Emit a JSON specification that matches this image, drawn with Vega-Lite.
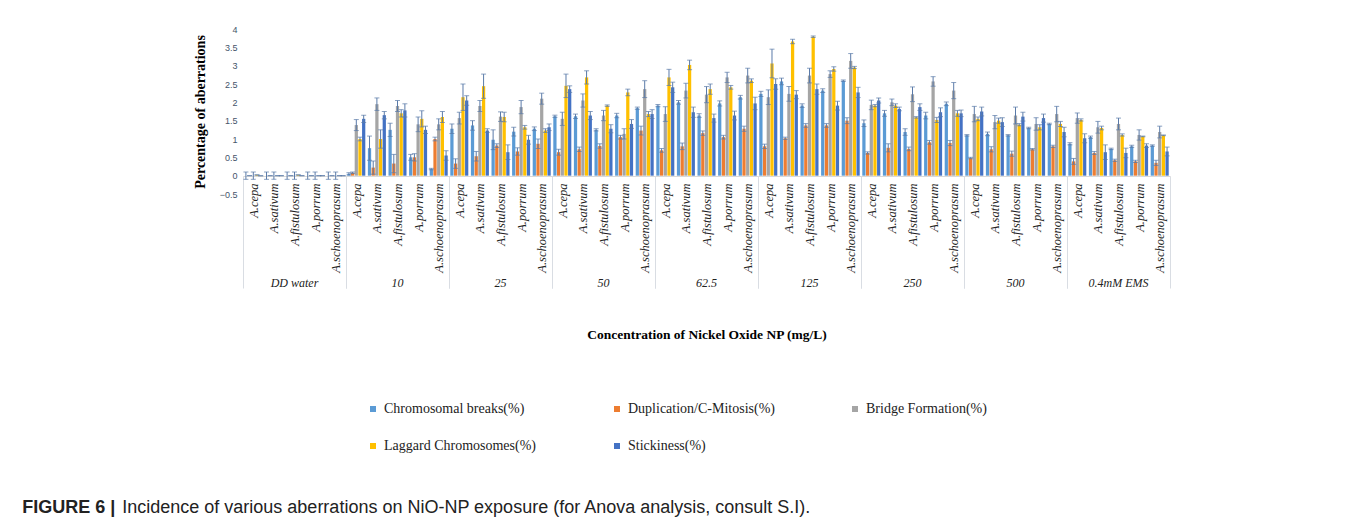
{
  "$schema": "https://vega.github.io/schema/vega-lite/v6.json",
  "background": "white",
  "padding": {"left": 22, "top": 25, "right": 10, "bottom": 5},
  "title": {"text": "FIGURE 6 |", "subtitle": "\u200b\u00a0\u00a0\u00a0\u00a0\u00a0\u00a0\u00a0\u00a0\u00a0\u00a0\u00a0\u00a0\u00a0\u00a0\u00a0\u00a0\u00a0\u00a0\u00a0\u00a0Incidence of various aberrations on NiO-NP exposure (for Anova analysis, consult S.I).", "orient": "bottom", "anchor": "start", "font": "Liberation Sans", "fontSize": 18, "fontWeight": "bold", "color": "#222222", "subtitleFont": "Liberation Sans", "subtitleFontSize": 18, "subtitleFontWeight": "normal", "subtitleColor": "#222222", "subtitlePadding": -18, "dx": -171, "offset": 46},
  "data": {"values": [
{"g":"DD water","s":"A.cepa","t":"Chromosomal breaks(%)","v":0,"e":0.1},{"g":"DD water","s":"A.cepa","t":"Duplication/C-Mitosis(%)","v":0,"e":0},{"g":"DD water","s":"A.cepa","t":"Bridge Formation(%)","v":0,"e":0.1},{"g":"DD water","s":"A.cepa","t":"Laggard Chromosomes(%)","v":0.02,"e":0},{"g":"DD water","s":"A.cepa","t":"Stickiness(%)","v":0,"e":0},
{"g":"DD water","s":"A.sativum","t":"Chromosomal breaks(%)","v":0,"e":0.1},{"g":"DD water","s":"A.sativum","t":"Duplication/C-Mitosis(%)","v":0,"e":0},{"g":"DD water","s":"A.sativum","t":"Bridge Formation(%)","v":0,"e":0.1},{"g":"DD water","s":"A.sativum","t":"Laggard Chromosomes(%)","v":0,"e":0},{"g":"DD water","s":"A.sativum","t":"Stickiness(%)","v":0,"e":0},
{"g":"DD water","s":"A.fistulosum","t":"Chromosomal breaks(%)","v":0,"e":0.1},{"g":"DD water","s":"A.fistulosum","t":"Duplication/C-Mitosis(%)","v":0,"e":0},{"g":"DD water","s":"A.fistulosum","t":"Bridge Formation(%)","v":0,"e":0.1},{"g":"DD water","s":"A.fistulosum","t":"Laggard Chromosomes(%)","v":0.02,"e":0},{"g":"DD water","s":"A.fistulosum","t":"Stickiness(%)","v":0,"e":0},
{"g":"DD water","s":"A.porrum","t":"Chromosomal breaks(%)","v":0,"e":0.1},{"g":"DD water","s":"A.porrum","t":"Duplication/C-Mitosis(%)","v":0,"e":0},{"g":"DD water","s":"A.porrum","t":"Bridge Formation(%)","v":0,"e":0.1},{"g":"DD water","s":"A.porrum","t":"Laggard Chromosomes(%)","v":0,"e":0},{"g":"DD water","s":"A.porrum","t":"Stickiness(%)","v":0,"e":0},
{"g":"DD water","s":"A.schoenoprasum","t":"Chromosomal breaks(%)","v":0,"e":0.1},{"g":"DD water","s":"A.schoenoprasum","t":"Duplication/C-Mitosis(%)","v":0,"e":0},{"g":"DD water","s":"A.schoenoprasum","t":"Bridge Formation(%)","v":0,"e":0.1},{"g":"DD water","s":"A.schoenoprasum","t":"Laggard Chromosomes(%)","v":0,"e":0},{"g":"DD water","s":"A.schoenoprasum","t":"Stickiness(%)","v":0,"e":0},
{"g":"10","s":"A.cepa","t":"Chromosomal breaks(%)","v":0.05,"e":0.03},{"g":"10","s":"A.cepa","t":"Duplication/C-Mitosis(%)","v":0.08,"e":0.02},{"g":"10","s":"A.cepa","t":"Bridge Formation(%)","v":1.38,"e":0.15},{"g":"10","s":"A.cepa","t":"Laggard Chromosomes(%)","v":1.0,"e":0.05},{"g":"10","s":"A.cepa","t":"Stickiness(%)","v":1.55,"e":0.1},
{"g":"10","s":"A.sativum","t":"Chromosomal breaks(%)","v":0.75,"e":0.33},{"g":"10","s":"A.sativum","t":"Duplication/C-Mitosis(%)","v":0.22,"e":0.18},{"g":"10","s":"A.sativum","t":"Bridge Formation(%)","v":1.95,"e":0.17},{"g":"10","s":"A.sativum","t":"Laggard Chromosomes(%)","v":1.0,"e":0.25},{"g":"10","s":"A.sativum","t":"Stickiness(%)","v":1.65,"e":0.1},
{"g":"10","s":"A.fistulosum","t":"Chromosomal breaks(%)","v":1.25,"e":0.18},{"g":"10","s":"A.fistulosum","t":"Duplication/C-Mitosis(%)","v":0.33,"e":0.25},{"g":"10","s":"A.fistulosum","t":"Bridge Formation(%)","v":1.9,"e":0.15},{"g":"10","s":"A.fistulosum","t":"Laggard Chromosomes(%)","v":1.7,"e":0.1},{"g":"10","s":"A.fistulosum","t":"Stickiness(%)","v":1.78,"e":0.18},
{"g":"10","s":"A.porrum","t":"Chromosomal breaks(%)","v":0.5,"e":0.08},{"g":"10","s":"A.porrum","t":"Duplication/C-Mitosis(%)","v":0.5,"e":0.1},{"g":"10","s":"A.porrum","t":"Bridge Formation(%)","v":1.4,"e":0.2},{"g":"10","s":"A.porrum","t":"Laggard Chromosomes(%)","v":1.55,"e":0.22},{"g":"10","s":"A.porrum","t":"Stickiness(%)","v":1.25,"e":0.1},
{"g":"10","s":"A.schoenoprasum","t":"Chromosomal breaks(%)","v":0.18,"e":0.02},{"g":"10","s":"A.schoenoprasum","t":"Duplication/C-Mitosis(%)","v":1.0,"e":0.05},{"g":"10","s":"A.schoenoprasum","t":"Bridge Formation(%)","v":1.4,"e":0.15},{"g":"10","s":"A.schoenoprasum","t":"Laggard Chromosomes(%)","v":1.6,"e":0.15},{"g":"10","s":"A.schoenoprasum","t":"Stickiness(%)","v":0.55,"e":0.13},
{"g":"25","s":"A.cepa","t":"Chromosomal breaks(%)","v":1.28,"e":0.13},{"g":"25","s":"A.cepa","t":"Duplication/C-Mitosis(%)","v":0.33,"e":0.13},{"g":"25","s":"A.cepa","t":"Bridge Formation(%)","v":1.57,"e":0.16},{"g":"25","s":"A.cepa","t":"Laggard Chromosomes(%)","v":2.14,"e":0.36},{"g":"25","s":"A.cepa","t":"Stickiness(%)","v":2.05,"e":0.13},
{"g":"25","s":"A.sativum","t":"Chromosomal breaks(%)","v":1.37,"e":0.13},{"g":"25","s":"A.sativum","t":"Duplication/C-Mitosis(%)","v":0.53,"e":0.13},{"g":"25","s":"A.sativum","t":"Bridge Formation(%)","v":1.9,"e":0.15},{"g":"25","s":"A.sativum","t":"Laggard Chromosomes(%)","v":2.44,"e":0.33},{"g":"25","s":"A.sativum","t":"Stickiness(%)","v":1.23,"e":0.05},
{"g":"25","s":"A.fistulosum","t":"Chromosomal breaks(%)","v":0.98,"e":0.27},{"g":"25","s":"A.fistulosum","t":"Duplication/C-Mitosis(%)","v":0.82,"e":0.05},{"g":"25","s":"A.fistulosum","t":"Bridge Formation(%)","v":1.61,"e":0.13},{"g":"25","s":"A.fistulosum","t":"Laggard Chromosomes(%)","v":1.6,"e":0.13},{"g":"25","s":"A.fistulosum","t":"Stickiness(%)","v":0.64,"e":0.2},
{"g":"25","s":"A.porrum","t":"Chromosomal breaks(%)","v":1.2,"e":0.12},{"g":"25","s":"A.porrum","t":"Duplication/C-Mitosis(%)","v":0.66,"e":0.1},{"g":"25","s":"A.porrum","t":"Bridge Formation(%)","v":1.87,"e":0.18},{"g":"25","s":"A.porrum","t":"Laggard Chromosomes(%)","v":1.32,"e":0.05},{"g":"25","s":"A.porrum","t":"Stickiness(%)","v":0.98,"e":0.12},
{"g":"25","s":"A.schoenoprasum","t":"Chromosomal breaks(%)","v":1.28,"e":0.05},{"g":"25","s":"A.schoenoprasum","t":"Duplication/C-Mitosis(%)","v":0.87,"e":0.13},{"g":"25","s":"A.schoenoprasum","t":"Bridge Formation(%)","v":2.1,"e":0.15},{"g":"25","s":"A.schoenoprasum","t":"Laggard Chromosomes(%)","v":1.23,"e":0.05},{"g":"25","s":"A.schoenoprasum","t":"Stickiness(%)","v":1.32,"e":0.09},
{"g":"50","s":"A.cepa","t":"Chromosomal breaks(%)","v":1.62,"e":0.03},{"g":"50","s":"A.cepa","t":"Duplication/C-Mitosis(%)","v":0.64,"e":0.08},{"g":"50","s":"A.cepa","t":"Bridge Formation(%)","v":1.55,"e":0.18},{"g":"50","s":"A.cepa","t":"Laggard Chromosomes(%)","v":2.45,"e":0.32},{"g":"50","s":"A.cepa","t":"Stickiness(%)","v":2.36,"e":0.09},
{"g":"50","s":"A.sativum","t":"Chromosomal breaks(%)","v":1.62,"e":0.06},{"g":"50","s":"A.sativum","t":"Duplication/C-Mitosis(%)","v":0.72,"e":0.06},{"g":"50","s":"A.sativum","t":"Bridge Formation(%)","v":2.05,"e":0.18},{"g":"50","s":"A.sativum","t":"Laggard Chromosomes(%)","v":2.68,"e":0.18},{"g":"50","s":"A.sativum","t":"Stickiness(%)","v":1.64,"e":0.11},
{"g":"50","s":"A.fistulosum","t":"Chromosomal breaks(%)","v":1.25,"e":0.03},{"g":"50","s":"A.fistulosum","t":"Duplication/C-Mitosis(%)","v":0.81,"e":0.06},{"g":"50","s":"A.fistulosum","t":"Bridge Formation(%)","v":1.64,"e":0.14},{"g":"50","s":"A.fistulosum","t":"Laggard Chromosomes(%)","v":1.91,"e":0.02},{"g":"50","s":"A.fistulosum","t":"Stickiness(%)","v":1.28,"e":0.11},
{"g":"50","s":"A.porrum","t":"Chromosomal breaks(%)","v":1.64,"e":0.06},{"g":"50","s":"A.porrum","t":"Duplication/C-Mitosis(%)","v":1.05,"e":0.05},{"g":"50","s":"A.porrum","t":"Bridge Formation(%)","v":1.14,"e":0.14},{"g":"50","s":"A.porrum","t":"Laggard Chromosomes(%)","v":2.27,"e":0.09},{"g":"50","s":"A.porrum","t":"Stickiness(%)","v":1.41,"e":0.12},
{"g":"50","s":"A.schoenoprasum","t":"Chromosomal breaks(%)","v":1.84,"e":0.03},{"g":"50","s":"A.schoenoprasum","t":"Duplication/C-Mitosis(%)","v":1.23,"e":0.12},{"g":"50","s":"A.schoenoprasum","t":"Bridge Formation(%)","v":2.36,"e":0.23},{"g":"50","s":"A.schoenoprasum","t":"Laggard Chromosomes(%)","v":1.68,"e":0.07},{"g":"50","s":"A.schoenoprasum","t":"Stickiness(%)","v":1.68,"e":0.12},
{"g":"62.5","s":"A.cepa","t":"Chromosomal breaks(%)","v":1.91,"e":0.03},{"g":"62.5","s":"A.cepa","t":"Duplication/C-Mitosis(%)","v":0.69,"e":0.05},{"g":"62.5","s":"A.cepa","t":"Bridge Formation(%)","v":1.68,"e":0.2},{"g":"62.5","s":"A.cepa","t":"Laggard Chromosomes(%)","v":2.68,"e":0.22},{"g":"62.5","s":"A.cepa","t":"Stickiness(%)","v":2.41,"e":0.14},
{"g":"62.5","s":"A.sativum","t":"Chromosomal breaks(%)","v":2.0,"e":0.05},{"g":"62.5","s":"A.sativum","t":"Duplication/C-Mitosis(%)","v":0.8,"e":0.09},{"g":"62.5","s":"A.sativum","t":"Bridge Formation(%)","v":2.32,"e":0.2},{"g":"62.5","s":"A.sativum","t":"Laggard Chromosomes(%)","v":3.02,"e":0.13},{"g":"62.5","s":"A.sativum","t":"Stickiness(%)","v":1.73,"e":0.14},
{"g":"62.5","s":"A.fistulosum","t":"Chromosomal breaks(%)","v":1.64,"e":0.05},{"g":"62.5","s":"A.fistulosum","t":"Duplication/C-Mitosis(%)","v":1.16,"e":0.06},{"g":"62.5","s":"A.fistulosum","t":"Bridge Formation(%)","v":2.21,"e":0.22},{"g":"62.5","s":"A.fistulosum","t":"Laggard Chromosomes(%)","v":2.36,"e":0.14},{"g":"62.5","s":"A.fistulosum","t":"Stickiness(%)","v":1.57,"e":0.11},
{"g":"62.5","s":"A.porrum","t":"Chromosomal breaks(%)","v":1.97,"e":0.07},{"g":"62.5","s":"A.porrum","t":"Duplication/C-Mitosis(%)","v":1.05,"e":0.05},{"g":"62.5","s":"A.porrum","t":"Bridge Formation(%)","v":2.68,"e":0.14},{"g":"62.5","s":"A.porrum","t":"Laggard Chromosomes(%)","v":2.41,"e":0.05},{"g":"62.5","s":"A.porrum","t":"Stickiness(%)","v":1.64,"e":0.12},
{"g":"62.5","s":"A.schoenoprasum","t":"Chromosomal breaks(%)","v":2.14,"e":0.05},{"g":"62.5","s":"A.schoenoprasum","t":"Duplication/C-Mitosis(%)","v":1.28,"e":0.07},{"g":"62.5","s":"A.schoenoprasum","t":"Bridge Formation(%)","v":2.73,"e":0.2},{"g":"62.5","s":"A.schoenoprasum","t":"Laggard Chromosomes(%)","v":2.59,"e":0.05},{"g":"62.5","s":"A.schoenoprasum","t":"Stickiness(%)","v":1.97,"e":0.17},
{"g":"125","s":"A.cepa","t":"Chromosomal breaks(%)","v":2.23,"e":0.07},{"g":"125","s":"A.cepa","t":"Duplication/C-Mitosis(%)","v":0.8,"e":0.06},{"g":"125","s":"A.cepa","t":"Bridge Formation(%)","v":2.14,"e":0.2},{"g":"125","s":"A.cepa","t":"Laggard Chromosomes(%)","v":3.06,"e":0.39},{"g":"125","s":"A.cepa","t":"Stickiness(%)","v":2.5,"e":0.14},
{"g":"125","s":"A.sativum","t":"Chromosomal breaks(%)","v":2.57,"e":0.09},{"g":"125","s":"A.sativum","t":"Duplication/C-Mitosis(%)","v":1.02,"e":0.03},{"g":"125","s":"A.sativum","t":"Bridge Formation(%)","v":2.23,"e":0.2},{"g":"125","s":"A.sativum","t":"Laggard Chromosomes(%)","v":3.66,"e":0.06},{"g":"125","s":"A.sativum","t":"Stickiness(%)","v":2.21,"e":0.11},
{"g":"125","s":"A.fistulosum","t":"Chromosomal breaks(%)","v":1.91,"e":0.05},{"g":"125","s":"A.fistulosum","t":"Duplication/C-Mitosis(%)","v":1.37,"e":0.05},{"g":"125","s":"A.fistulosum","t":"Bridge Formation(%)","v":2.73,"e":0.2},{"g":"125","s":"A.fistulosum","t":"Laggard Chromosomes(%)","v":3.79,"e":0.02},{"g":"125","s":"A.fistulosum","t":"Stickiness(%)","v":2.36,"e":0.14},
{"g":"125","s":"A.porrum","t":"Chromosomal breaks(%)","v":2.32,"e":0.05},{"g":"125","s":"A.porrum","t":"Duplication/C-Mitosis(%)","v":1.37,"e":0.05},{"g":"125","s":"A.porrum","t":"Bridge Formation(%)","v":2.77,"e":0.09},{"g":"125","s":"A.porrum","t":"Laggard Chromosomes(%)","v":2.91,"e":0.06},{"g":"125","s":"A.porrum","t":"Stickiness(%)","v":1.91,"e":0.12},
{"g":"125","s":"A.schoenoprasum","t":"Chromosomal breaks(%)","v":2.59,"e":0.02},{"g":"125","s":"A.schoenoprasum","t":"Duplication/C-Mitosis(%)","v":1.5,"e":0.08},{"g":"125","s":"A.schoenoprasum","t":"Bridge Formation(%)","v":3.13,"e":0.2},{"g":"125","s":"A.schoenoprasum","t":"Laggard Chromosomes(%)","v":2.95,"e":0.03},{"g":"125","s":"A.schoenoprasum","t":"Stickiness(%)","v":2.27,"e":0.14},
{"g":"250","s":"A.cepa","t":"Chromosomal breaks(%)","v":1.43,"e":0.09},{"g":"250","s":"A.cepa","t":"Duplication/C-Mitosis(%)","v":0.62,"e":0.03},{"g":"250","s":"A.cepa","t":"Bridge Formation(%)","v":1.93,"e":0.13},{"g":"250","s":"A.cepa","t":"Laggard Chromosomes(%)","v":1.91,"e":0.03},{"g":"250","s":"A.cepa","t":"Stickiness(%)","v":2.05,"e":0.07},
{"g":"250","s":"A.sativum","t":"Chromosomal breaks(%)","v":1.7,"e":0.08},{"g":"250","s":"A.sativum","t":"Duplication/C-Mitosis(%)","v":0.76,"e":0.11},{"g":"250","s":"A.sativum","t":"Bridge Formation(%)","v":2.0,"e":0.09},{"g":"250","s":"A.sativum","t":"Laggard Chromosomes(%)","v":1.91,"e":0.05},{"g":"250","s":"A.sativum","t":"Stickiness(%)","v":1.82,"e":0.05},
{"g":"250","s":"A.fistulosum","t":"Chromosomal breaks(%)","v":1.19,"e":0.09},{"g":"250","s":"A.fistulosum","t":"Duplication/C-Mitosis(%)","v":0.73,"e":0.05},{"g":"250","s":"A.fistulosum","t":"Bridge Formation(%)","v":2.22,"e":0.2},{"g":"250","s":"A.fistulosum","t":"Laggard Chromosomes(%)","v":1.59,"e":0.02},{"g":"250","s":"A.fistulosum","t":"Stickiness(%)","v":1.87,"e":0.09},
{"g":"250","s":"A.porrum","t":"Chromosomal breaks(%)","v":1.64,"e":0.09},{"g":"250","s":"A.porrum","t":"Duplication/C-Mitosis(%)","v":0.91,"e":0.05},{"g":"250","s":"A.porrum","t":"Bridge Formation(%)","v":2.57,"e":0.13},{"g":"250","s":"A.porrum","t":"Laggard Chromosomes(%)","v":1.52,"e":0.07},{"g":"250","s":"A.porrum","t":"Stickiness(%)","v":1.73,"e":0.12},
{"g":"250","s":"A.schoenoprasum","t":"Chromosomal breaks(%)","v":1.96,"e":0.05},{"g":"250","s":"A.schoenoprasum","t":"Duplication/C-Mitosis(%)","v":0.89,"e":0.07},{"g":"250","s":"A.schoenoprasum","t":"Bridge Formation(%)","v":2.32,"e":0.22},{"g":"250","s":"A.schoenoprasum","t":"Laggard Chromosomes(%)","v":1.7,"e":0.08},{"g":"250","s":"A.schoenoprasum","t":"Stickiness(%)","v":1.7,"e":0.09},
{"g":"500","s":"A.cepa","t":"Chromosomal breaks(%)","v":1.1,"e":0.02},{"g":"500","s":"A.cepa","t":"Duplication/C-Mitosis(%)","v":0.48,"e":0.02},{"g":"500","s":"A.cepa","t":"Bridge Formation(%)","v":1.68,"e":0.21},{"g":"500","s":"A.cepa","t":"Laggard Chromosomes(%)","v":1.55,"e":0.05},{"g":"500","s":"A.cepa","t":"Stickiness(%)","v":1.75,"e":0.12},
{"g":"500","s":"A.sativum","t":"Chromosomal breaks(%)","v":1.14,"e":0.05},{"g":"500","s":"A.sativum","t":"Duplication/C-Mitosis(%)","v":0.72,"e":0.07},{"g":"500","s":"A.sativum","t":"Bridge Formation(%)","v":1.46,"e":0.18},{"g":"500","s":"A.sativum","t":"Laggard Chromosomes(%)","v":1.5,"e":0.07},{"g":"500","s":"A.sativum","t":"Stickiness(%)","v":1.46,"e":0.12},
{"g":"500","s":"A.fistulosum","t":"Chromosomal breaks(%)","v":1.1,"e":0.02},{"g":"500","s":"A.fistulosum","t":"Duplication/C-Mitosis(%)","v":0.6,"e":0.07},{"g":"500","s":"A.fistulosum","t":"Bridge Formation(%)","v":1.64,"e":0.23},{"g":"500","s":"A.fistulosum","t":"Laggard Chromosomes(%)","v":1.39,"e":0.03},{"g":"500","s":"A.fistulosum","t":"Stickiness(%)","v":1.61,"e":0.12},
{"g":"500","s":"A.porrum","t":"Chromosomal breaks(%)","v":1.3,"e":0.02},{"g":"500","s":"A.porrum","t":"Duplication/C-Mitosis(%)","v":0.72,"e":0.02},{"g":"500","s":"A.porrum","t":"Bridge Formation(%)","v":1.41,"e":0.17},{"g":"500","s":"A.porrum","t":"Laggard Chromosomes(%)","v":1.32,"e":0.07},{"g":"500","s":"A.porrum","t":"Stickiness(%)","v":1.57,"e":0.11},
{"g":"500","s":"A.schoenoprasum","t":"Chromosomal breaks(%)","v":1.41,"e":0.02},{"g":"500","s":"A.schoenoprasum","t":"Duplication/C-Mitosis(%)","v":0.8,"e":0.03},{"g":"500","s":"A.schoenoprasum","t":"Bridge Formation(%)","v":1.68,"e":0.21},{"g":"500","s":"A.schoenoprasum","t":"Laggard Chromosomes(%)","v":1.41,"e":0.07},{"g":"500","s":"A.schoenoprasum","t":"Stickiness(%)","v":1.19,"e":0.13},
{"g":"0.4mM EMS","s":"A.cepa","t":"Chromosomal breaks(%)","v":0.87,"e":0.03},{"g":"0.4mM EMS","s":"A.cepa","t":"Duplication/C-Mitosis(%)","v":0.39,"e":0.08},{"g":"0.4mM EMS","s":"A.cepa","t":"Bridge Formation(%)","v":1.57,"e":0.14},{"g":"0.4mM EMS","s":"A.cepa","t":"Laggard Chromosomes(%)","v":1.52,"e":0.03},{"g":"0.4mM EMS","s":"A.cepa","t":"Stickiness(%)","v":1.02,"e":0.12},
{"g":"0.4mM EMS","s":"A.sativum","t":"Chromosomal breaks(%)","v":1.05,"e":0.03},{"g":"0.4mM EMS","s":"A.sativum","t":"Duplication/C-Mitosis(%)","v":0.62,"e":0.04},{"g":"0.4mM EMS","s":"A.sativum","t":"Bridge Formation(%)","v":1.32,"e":0.16},{"g":"0.4mM EMS","s":"A.sativum","t":"Laggard Chromosomes(%)","v":1.3,"e":0.05},{"g":"0.4mM EMS","s":"A.sativum","t":"Stickiness(%)","v":0.64,"e":0.2},
{"g":"0.4mM EMS","s":"A.fistulosum","t":"Chromosomal breaks(%)","v":0.73,"e":0.02},{"g":"0.4mM EMS","s":"A.fistulosum","t":"Duplication/C-Mitosis(%)","v":0.42,"e":0.03},{"g":"0.4mM EMS","s":"A.fistulosum","t":"Bridge Formation(%)","v":1.41,"e":0.16},{"g":"0.4mM EMS","s":"A.fistulosum","t":"Laggard Chromosomes(%)","v":1.11,"e":0.03},{"g":"0.4mM EMS","s":"A.fistulosum","t":"Stickiness(%)","v":0.62,"e":0.13},
{"g":"0.4mM EMS","s":"A.porrum","t":"Chromosomal breaks(%)","v":0.8,"e":0.03},{"g":"0.4mM EMS","s":"A.porrum","t":"Duplication/C-Mitosis(%)","v":0.39,"e":0.03},{"g":"0.4mM EMS","s":"A.porrum","t":"Bridge Formation(%)","v":1.11,"e":0.14},{"g":"0.4mM EMS","s":"A.porrum","t":"Laggard Chromosomes(%)","v":1.07,"e":0.01},{"g":"0.4mM EMS","s":"A.porrum","t":"Stickiness(%)","v":0.82,"e":0.05},
{"g":"0.4mM EMS","s":"A.schoenoprasum","t":"Chromosomal breaks(%)","v":0.82,"e":0.02},{"g":"0.4mM EMS","s":"A.schoenoprasum","t":"Duplication/C-Mitosis(%)","v":0.35,"e":0.07},{"g":"0.4mM EMS","s":"A.schoenoprasum","t":"Bridge Formation(%)","v":1.19,"e":0.16},{"g":"0.4mM EMS","s":"A.schoenoprasum","t":"Laggard Chromosomes(%)","v":1.1,"e":0.01},{"g":"0.4mM EMS","s":"A.schoenoprasum","t":"Stickiness(%)","v":0.66,"e":0.12}
  ]},
  "facet": {
    "column": {
      "field": "g",
      "type": "nominal",
      "sort": ["DD water", "10", "25", "50", "62.5", "125", "250", "500", "0.4mM EMS"],
      "header": {
        "labelOrient": "bottom",
        "labelFont": "Liberation Serif",
        "labelFontStyle": "italic",
        "labelFontSize": 12,
        "labelColor": "#222222",
        "labelPadding": -11,
        "title": "Concentration of Nickel Oxide NP (mg/L)",
        "titleOrient": "bottom",
        "titleFont": "Liberation Serif",
        "titleFontWeight": "bold",
        "titleFontSize": 13.5,
        "titleColor": "#000000",
        "titlePadding": 29
      }
    }
  },
  "spacing": 0,
  "spec": {
    "width": 103,
    "height": 165,
    "layer": [
      {
        "mark": {"type": "bar"},
        "encoding": {
          "x": {"field": "s", "type": "nominal", "sort": ["A.cepa", "A.sativum", "A.fistulosum", "A.porrum", "A.schoenoprasum"],
                "scale": {"paddingInner": 0, "paddingOuter": 0},
                "axis": {"title": null, "orient": "bottom", "offset": -18, "zindex": 1, "labelAngle": -90, "labelFont": "Liberation Serif", "labelFontStyle": "italic", "labelFontSize": 12.5, "labelColor": "#222222", "labelPadding": -105, "labelLimit": 300,
                         "tickBand": "extent", "ticks": true, "tickSize": 112, "tickWidth": 1,
                         "tickColor": {"condition": {"test": "datum.value === 'A.schoenoprasum' || datum.extra", "value": "#d9dde3"}, "value": "rgba(0,0,0,0)"},
                         "domain": true, "domainColor": "#d9d9d9", "domainWidth": 1}},
          "xOffset": {"field": "t", "type": "nominal", "sort": ["Chromosomal breaks(%)", "Duplication/C-Mitosis(%)", "Bridge Formation(%)", "Laggard Chromosomes(%)", "Stickiness(%)"],
                "scale": {"paddingInner": 0.12, "paddingOuter": 0.35}},
          "y": {"field": "v", "type": "quantitative", "title": "Percentage of aberrations",
                "scale": {"domain": [-0.5, 4], "nice": false, "zero": false},
                "axis": {"values": [-0.5, 0, 0.5, 1, 1.5, 2, 2.5, 3, 3.5, 4], "format": "~g", "labelOverlap": false}},
          "color": {"field": "t", "type": "nominal", "sort": ["Chromosomal breaks(%)", "Duplication/C-Mitosis(%)", "Bridge Formation(%)", "Laggard Chromosomes(%)", "Stickiness(%)"],
                "scale": {"domain": ["Chromosomal breaks(%)", "Duplication/C-Mitosis(%)", "Bridge Formation(%)", "Laggard Chromosomes(%)", "Stickiness(%)"], "range": ["#5b9bd5", "#ed7d31", "#a5a5a5", "#ffc000", "#4472c4"]},
                "legend": {"orient": "none", "legendX": 123, "legendY": 373, "direction": "horizontal", "columns": 3, "title": null, "symbolType": "square", "symbolSize": 36, "labelFont": "Liberation Serif", "labelFontSize": 14, "labelColor": "#222222", "columnPadding": 73, "rowPadding": 23}}
        }
      },
      {
        "mark": {"type": "errorbar", "ticks": {"size": 5}, "color": "#5a7aa8", "thickness": 1},
        "encoding": {
          "x": {"field": "s", "type": "nominal", "sort": ["A.cepa", "A.sativum", "A.fistulosum", "A.porrum", "A.schoenoprasum"]},
          "xOffset": {"field": "t", "type": "nominal", "sort": ["Chromosomal breaks(%)", "Duplication/C-Mitosis(%)", "Bridge Formation(%)", "Laggard Chromosomes(%)", "Stickiness(%)"]},
          "y": {"field": "v", "type": "quantitative", "title": "Percentage of aberrations", "scale": {"domain": [-0.5, 4], "nice": false, "zero": false},
                "axis": {"values": [-0.5, 0, 0.5, 1, 1.5, 2, 2.5, 3, 3.5, 4], "format": "~g", "labelOverlap": false}},
          "yError": {"field": "e"}
        }
      }
    ]
  },
  "config": {
    "view": {"stroke": null},
    "legend": {"labelFont": "Liberation Serif", "labelFontSize": 14, "labelColor": "#222222"},
    "axisY": {"grid": false, "ticks": false, "domain": false, "labelFont": "Liberation Sans", "labelFontSize": 9, "labelColor": "#44546a", "labelPadding": 6, "titleFont": "Liberation Serif", "titleFontSize": 14, "titleFontWeight": "bold", "titleColor": "#000000", "titlePadding": 12}
  }
}
